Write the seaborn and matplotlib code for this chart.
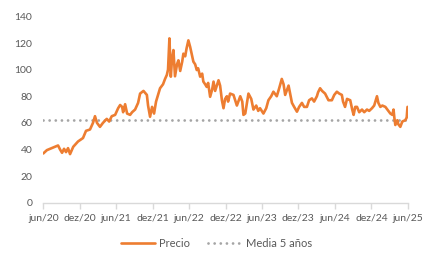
import matplotlib
matplotlib.use("Agg")
import matplotlib.pyplot as plt
import seaborn as sns
import pandas as pd

dates = [
    "2020-06-01", "2020-06-19", "2020-07-05", "2020-07-30", "2020-08-14", "2020-08-24",
    "2020-09-03", "2020-09-13", "2020-09-23", "2020-10-03", "2020-10-13", "2020-10-29",
    "2020-11-22", "2020-12-17", "2021-01-01", "2021-01-21", "2021-02-05", "2021-02-15",
    "2021-02-25", "2021-03-12", "2021-03-27", "2021-04-15", "2021-04-27", "2021-05-10",
    "2021-05-27", "2021-06-11", "2021-06-21", "2021-07-01", "2021-07-06", "2021-07-16",
    "2021-07-26", "2021-08-10", "2021-08-20", "2021-09-04", "2021-09-19", "2021-09-29",
    "2021-10-16", "2021-11-02", "2021-11-08", "2021-11-18", "2021-11-28", "2021-12-08",
    "2021-12-18", "2022-01-07", "2022-01-22", "2022-02-01", "2022-02-10", "2022-02-16",
    "2022-02-23", "2022-03-02", "2022-03-08", "2022-03-15", "2022-03-23", "2022-04-02",
    "2022-04-09", "2022-04-18", "2022-04-28", "2022-05-04", "2022-05-13", "2022-05-20",
    "2022-05-29", "2022-06-07", "2022-06-17", "2022-06-23", "2022-07-02", "2022-07-10",
    "2022-07-17", "2022-07-27", "2022-08-06", "2022-08-12", "2022-08-21", "2022-08-29",
    "2022-09-05", "2022-09-15", "2022-09-25", "2022-10-02", "2022-10-10", "2022-10-27",
    "2022-11-04", "2022-11-13", "2022-11-21", "2022-11-29", "2022-12-08", "2022-12-14",
    "2022-12-24", "2023-01-10", "2023-01-27", "2023-02-13", "2023-02-23", "2023-03-01",
    "2023-03-10", "2023-03-26", "2023-04-09", "2023-04-20", "2023-05-04", "2023-05-14",
    "2023-05-23", "2023-06-09", "2023-06-23", "2023-07-04", "2023-07-18", "2023-07-29",
    "2023-08-15", "2023-08-27", "2023-09-09", "2023-09-18", "2023-09-26", "2023-10-13",
    "2023-10-21", "2023-10-30", "2023-11-10", "2023-11-24", "2023-12-05", "2023-12-19",
    "2023-12-30", "2024-01-13", "2024-01-24", "2024-02-07", "2024-02-18", "2024-03-03",
    "2024-03-09", "2024-03-19", "2024-03-29", "2024-04-13", "2024-04-30", "2024-05-17",
    "2024-05-29", "2024-06-11", "2024-06-23", "2024-07-06", "2024-07-12", "2024-07-22",
    "2024-08-01", "2024-08-17", "2024-08-27", "2024-09-03", "2024-09-11", "2024-09-20",
    "2024-10-01", "2024-10-15", "2024-10-26", "2024-11-09", "2024-11-20", "2024-12-04",
    "2024-12-15", "2024-12-29", "2025-01-05", "2025-01-15", "2025-01-25", "2025-02-09",
    "2025-02-24", "2025-03-06", "2025-03-16", "2025-03-22", "2025-03-26", "2025-03-31",
    "2025-04-10", "2025-04-15", "2025-04-25", "2025-05-05", "2025-05-20", "2025-05-27",
    "2025-05-31",
]
precio = [
    37, 39.5, 40.5, 42, 43, 40,
    37.5, 40.5, 38, 41, 36.5, 42,
    46, 48.6, 54, 55, 60, 65,
    60, 57, 60, 63, 61, 65,
    66, 71, 73.4, 72, 68, 74,
    67, 66, 68, 70, 75, 82,
    84, 81, 73, 64.6, 72, 67,
    76, 86, 89, 93, 96, 100,
    123.5, 94.7, 108, 114.7, 95, 104,
    107, 99, 106, 112, 110, 116,
    122, 117, 110, 106, 104, 99.7,
    101, 94.7, 97, 91, 89, 87,
    90, 79.6, 85, 91, 84, 92,
    88, 77, 71, 78, 80, 76,
    82, 81, 73, 80, 76, 66,
    67, 82, 78, 70, 73, 69,
    71, 67, 71, 77, 80, 83.4,
    80, 86, 93, 89, 81, 88,
    82, 75, 72, 68.4, 72, 75,
    72, 72, 77, 78.4, 76, 80,
    83, 86, 84, 82, 77, 77,
    81, 83.4, 82, 81, 76, 72,
    78, 77, 70, 66, 72, 72,
    68, 70, 68, 70, 69, 71,
    73, 80, 75, 72, 73, 72,
    69, 67, 66, 70, 64, 58.4,
    62, 59, 57, 61, 62, 64,
    72,
]
media_5 = 62.2
x_ticks = pd.date_range("2020-06-01", "2025-06-01", freq="6MS")
x_labels = ["jun/20", "dez/20", "jun/21", "dez/21", "jun/22", "dez/22",
            "jun/23", "dez/23", "jun/24", "dez/24", "jun/25"]
y_ticks = [0, 20, 40, 60, 80, 100, 120, 140]

df = pd.DataFrame({"fecha": pd.to_datetime(dates), "Precio": precio})
df_mean = pd.DataFrame({"fecha": [pd.Timestamp("2020-06-01"), pd.Timestamp("2025-06-01")],
                        "Media 5 años": [media_5, media_5]})

sns.set_style("white")
plt.rcParams["font.family"] = ["Lato", "DejaVu Sans"]

fig = plt.figure(figsize=(4.4, 2.69), dpi=100)
ax = fig.add_axes([0.0984, 0.2465, 0.8282, 0.6925])

sns.lineplot(data=df_mean, x="fecha", y="Media 5 años", ax=ax, color="#A5A5A5",
             linewidth=2.0, label="Media 5 años")
mline = ax.lines[-1]
mline.set_linestyle((0, (0.01, 2.2)))
mline.set_dash_capstyle("round")

sns.lineplot(data=df, x="fecha", y="Precio", ax=ax, color="#ED7D31",
             linewidth=1.9, label="Precio")

ax.set_xlim(pd.Timestamp("2020-06-01"), pd.Timestamp("2025-06-01"))
ax.set_ylim(0, 140)
ax.set_xticks(x_ticks)
ax.set_xticklabels(x_labels)
ax.set_yticks(y_ticks)
ax.set_xlabel("")
ax.set_ylabel("")
for s in ["left", "right", "top"]:
    ax.spines[s].set_visible(False)
ax.spines["bottom"].set_color("#D9D9D9")
ax.spines["bottom"].set_linewidth(1.0)
ax.tick_params(axis="x", length=4, width=1.0, color="#D9D9D9", labelsize=7.5,
               labelcolor="#595959", pad=4, direction="out", bottom=True)
ax.tick_params(axis="y", length=0, labelsize=7.5, labelcolor="#595959", pad=8)

handles, labels = ax.get_legend_handles_labels()
order = [labels.index("Precio"), labels.index("Media 5 años")]
leg = ax.legend([handles[i] for i in order], [labels[i] for i in order],
                loc="center", bbox_to_anchor=(0.492, 0.095), bbox_transform=fig.transFigure,
                ncol=2, frameon=False, fontsize=8, handlelength=3.0, columnspacing=1.6,
                handletextpad=0.4)
for t in leg.get_texts():
    t.set_color("#595959")

fig.savefig("out.png", dpi=100)
